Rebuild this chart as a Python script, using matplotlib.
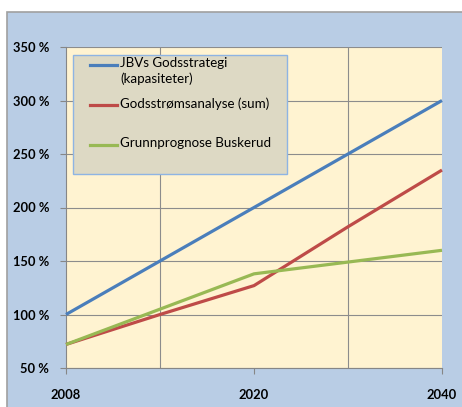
import matplotlib
matplotlib.use("Agg")
import matplotlib.pyplot as plt
from matplotlib.patches import Rectangle
from matplotlib.lines import Line2D

# Category axis: five evenly spaced slots, labels on every second one
categories = ["2008", "", "2020", "", "2040"]
series_names = ["JBVs Godsstrategi\n(kapasiteter)",
                "Godsstrømsanalyse (sum)",
                "Grunnprognose Buskerud"]
jbv = [100, 150, 200, 250, 300]
godsstrom = [72, 100, 127, 182, 235]
grunnprognose = [72, 105, 138, 149, 160]
yticks = [50, 100, 150, 200, 250, 300, 350]

colors = ["#4A7EBB", "#BE4B48", "#98B954"]
font = "Lato"

W, H = 462, 407
fig = plt.figure(figsize=(W / 100, H / 100), dpi=100)
fig.patch.set_facecolor("white")

# Chart area background with grey border on top/left (extends past right/bottom edges)
bg = Rectangle((7 / W, -0.1), 1.2, 1.1 - 12 / H, transform=fig.transFigure,
               facecolor="#B9CDE5", edgecolor="#A0A0A0", linewidth=1.2, zorder=-10)
fig.patches.append(bg)

ax = fig.add_axes([66 / W, (H - 368) / H, 376 / W, 321 / H])
ax.set_zorder(1)
ax.set_facecolor("#FFF3D1")

x = list(range(len(categories)))
for vals, c in zip([jbv, godsstrom, grunnprognose], colors):
    ax.plot(x, vals, color=c, linewidth=2.3, solid_capstyle="butt",
            clip_on=False, zorder=3)

ax.set_xlim(0, len(categories) - 1)
ax.set_ylim(50, 350)
ax.set_yticks(yticks)
ax.set_yticklabels([f"{v} %" for v in yticks], fontfamily=font,
                   fontweight="bold", fontsize=9.3)
ax.set_xticks([i for i, c in enumerate(categories) if c])
ax.set_xticklabels([c for c in categories if c], fontfamily=font,
                   fontweight="bold", fontsize=9.3)
ax.set_xticks(x, minor=True)
ax.tick_params(axis="x", which="minor", length=0)
ax.tick_params(axis="both", which="major", length=4, width=0.8,
               color="#868686", direction="out")
ax.tick_params(axis="y", pad=8)
ax.tick_params(axis="x", pad=11)

ax.grid(True, which="major", axis="y", color="#8C8C8C", linewidth=0.8)
ax.grid(True, which="minor", axis="x", color="#8C8C8C", linewidth=0.8)
ax.set_axisbelow(True)
for side in ["top", "right"]:
    ax.spines[side].set_visible(False)
for side in ["left", "bottom"]:
    ax.spines[side].set_color("#868686")
    ax.spines[side].set_linewidth(0.8)

# Legend box placed in figure pixel space
def fx(px):
    return px / W

def fy(py):
    return 1 - py / H

lax = fig.add_axes([0, 0, 1, 1], facecolor="none")
lax.set_zorder(5)
lax.set_axis_off()
lax.add_patch(Rectangle((fx(73), fy(174)), fx(287) - fx(73), fy(55) - fy(174),
                        transform=fig.transFigure, facecolor="#DDD9C4",
                        edgecolor="#8EB4E3", linewidth=1.0))

entry_y = [65, 105, 145]
for name, c, yy in zip(series_names, colors, entry_y):
    lax.add_line(Line2D([fx(90), fx(117)], [fy(yy), fy(yy)],
                        transform=fig.transFigure, color=c, linewidth=2.3))
    lax.text(fx(120), fy(yy - 8), name, ha="left", va="top",
             transform=fig.transFigure, fontfamily=font, fontsize=9.6,
             color="black", linespacing=1.3)

fig.savefig("out.png", dpi=100)
